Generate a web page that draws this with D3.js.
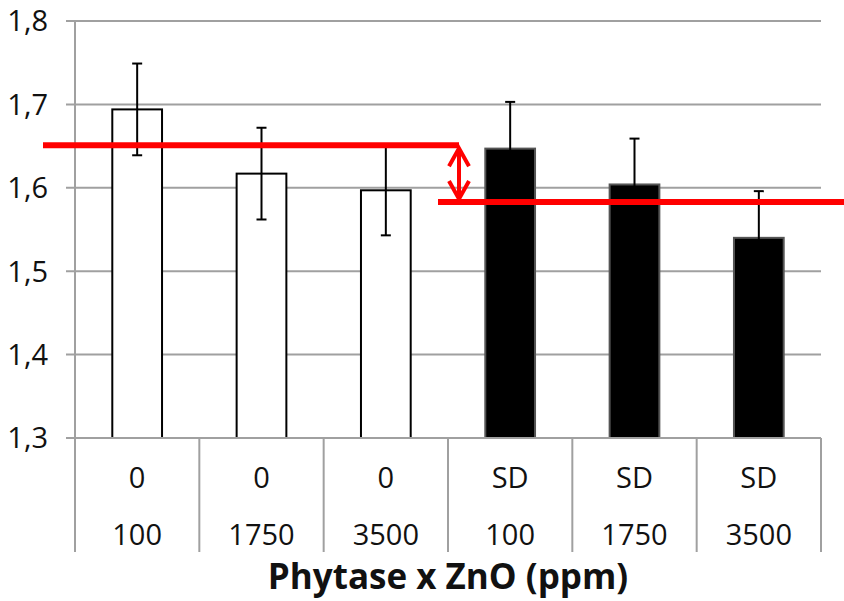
<!DOCTYPE html>
<html><head><meta charset="utf-8">
<script src="https://cdn.jsdelivr.net/npm/d3@7"></script>
<style>
html,body{margin:0;padding:0;background:#fff;}
svg{display:block;}
</style></head>
<body>
<svg id="chart" width="844" height="601"></svg>
<script>
// ---- data ----
const phytase = ["0", "0", "0", "SD", "SD", "SD"];
const zno = ["100", "1750", "3500", "100", "1750", "3500"];
const values = [1.694, 1.617, 1.597, 1.647, 1.604, 1.540];
const errors = [0.055, 0.055, 0.054, 0.056, 0.055, 0.056];
const yTicks = [1.3, 1.4, 1.5, 1.6, 1.7, 1.8];
const refLevels = [1.651, 1.583];
const axisTitle = "Phytase x ZnO (ppm)";

(function () {
// ---- layout ----
const svg = d3.select("#chart");
const pL = 75, pR = 821, pT = 21, pB = 438;
const font = "'Open Sans', 'DejaVu Sans', sans-serif";

const x = d3.scaleBand().domain(d3.range(values.length)).range([pL, pR])
  .paddingInner(0.6).paddingOuter(0.3);
const y = d3.scaleLinear().domain([1.3, 1.8]).range([pB, pT]);
const step = x.step();
const fmt = v => d3.format(".1f")(v).replace(".", ",");

// gridlines + tick marks
svg.append("g").selectAll("line").data(yTicks).join("line")
  .attr("x1", pL - 9).attr("x2", pR)
  .attr("y1", d => y(d)).attr("y2", d => y(d))
  .attr("stroke", "#a0a0a0").attr("stroke-width", 2);

// y labels
svg.append("g").selectAll("text").data(yTicks).join("text")
  .attr("x", 48).attr("y", d => y(d)).attr("dy", "0.36em")
  .attr("text-anchor", "end")
  .style("font-family", font).style("font-size", "29px").attr("fill", "#111")
  .text(fmt);

// y axis line
svg.append("line").attr("x1", pL).attr("x2", pL).attr("y1", pT).attr("y2", pB)
  .attr("stroke", "#a0a0a0").attr("stroke-width", 2);

// category separators
const seps = d3.range(values.length + 1).map(i => pL + i * step);
svg.append("g").selectAll("line").data(seps).join("line")
  .attr("x1", d => d).attr("x2", d => d).attr("y1", pB).attr("y2", 552)
  .attr("stroke", "#a0a0a0").attr("stroke-width", 2);

// bars
svg.append("g").selectAll("rect").data(values).join("rect")
  .attr("x", (d, i) => x(i)).attr("width", x.bandwidth())
  .attr("y", d => y(d)).attr("height", d => y(1.3) - y(d))
  .attr("fill", (d, i) => phytase[i] === "0" ? "#fff" : "#000")
  .attr("stroke", (d, i) => phytase[i] === "0" ? "#000" : "#555")
  .attr("stroke-width", 2);

// x axis line
svg.append("line").attr("x1", pL - 9).attr("x2", pR).attr("y1", pB).attr("y2", pB)
  .attr("stroke", "#a0a0a0").attr("stroke-width", 2);

// error bars
const eg = svg.append("g").attr("stroke", "#000").attr("stroke-width", 2);
values.forEach((v, i) => {
  const cx = x(i) + x.bandwidth() / 2;
  const hi = y(v + errors[i]), lo = y(v - errors[i]);
  eg.append("line").attr("x1", cx).attr("x2", cx).attr("y1", hi).attr("y2", lo);
  eg.append("line").attr("x1", cx - 5).attr("x2", cx + 5).attr("y1", hi).attr("y2", hi);
  eg.append("line").attr("x1", cx - 5).attr("x2", cx + 5).attr("y1", lo).attr("y2", lo);
});

// category labels
const lab = svg.append("g").style("font-family", font).style("font-size", "29px").attr("fill", "#111")
  .attr("text-anchor", "middle");
lab.selectAll("text.l1").data(phytase).join("text").attr("class", "l1")
  .attr("x", (d, i) => x(i) + x.bandwidth() / 2).attr("y", 478).attr("dy", "0.36em").text(d => d);
lab.selectAll("text.l2").data(zno).join("text").attr("class", "l2")
  .attr("x", (d, i) => x(i) + x.bandwidth() / 2).attr("y", 535).attr("dy", "0.36em").text(d => d);

// axis title
svg.append("text").attr("x", 448).attr("y", 589).attr("text-anchor", "middle")
  .style("font-family", font).style("font-size", "35px").style("font-weight", "bold").attr("fill", "#111")
  .text(axisTitle);

// red annotation
const mid = pL + 3 * step;
const red = svg.append("g").attr("stroke", "#ff0000").attr("fill", "none");
red.append("line").attr("x1", 43).attr("x2", mid + 11).attr("y1", y(refLevels[0])).attr("y2", y(refLevels[0]))
  .attr("stroke-width", 6);
red.append("line").attr("x1", mid - 10).attr("x2", 844).attr("y1", y(refLevels[1])).attr("y2", y(refLevels[1]))
  .attr("stroke-width", 6);
const ax = mid + 11, ya = y(refLevels[0]) + 3, yb = y(refLevels[1]) - 3;
red.append("line").attr("x1", ax).attr("x2", ax).attr("y1", ya).attr("y2", yb).attr("stroke-width", 4);
red.append("path").attr("d", `M${ax - 10},${ya + 18}L${ax},${ya}L${ax + 10},${ya + 18}`)
  .attr("stroke-width", 4).attr("stroke-linejoin", "miter");
red.append("path").attr("d", `M${ax - 10},${yb - 18}L${ax},${yb}L${ax + 10},${yb - 18}`)
  .attr("stroke-width", 4).attr("stroke-linejoin", "miter");
})();
</script>
</body></html>
